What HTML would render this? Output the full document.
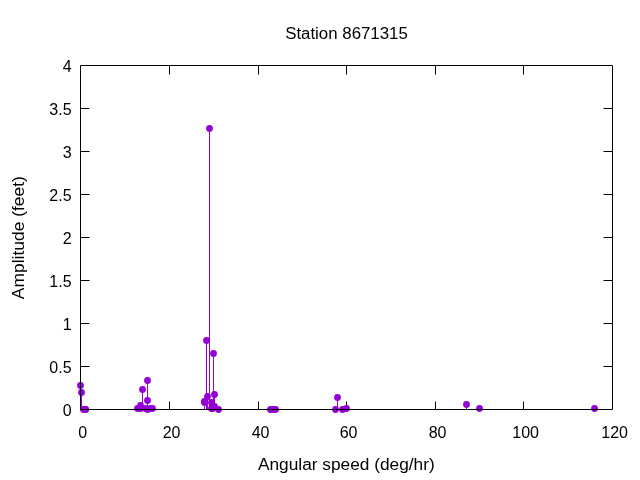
<!DOCTYPE html>
<html><head><meta charset="utf-8"><style>
html,body{margin:0;padding:0;background:#fff;width:640px;height:480px;overflow:hidden}
svg{display:block;will-change:transform}
text{font-family:"Liberation Sans",sans-serif}
</style></head><body>
<svg width="640" height="480" viewBox="0 0 640 480">
<rect width="640" height="480" fill="#fff"/>
<path d="M80.5,108.5H89.5M612.5,108.5H603.5M80.5,151.5H89.5M612.5,151.5H603.5M80.5,194.5H89.5M612.5,194.5H603.5M80.5,237.5H89.5M612.5,237.5H603.5M80.5,280.5H89.5M612.5,280.5H603.5M80.5,323.5H89.5M612.5,323.5H603.5M80.5,366.5H89.5M612.5,366.5H603.5M169.5,409.5V401.5M169.5,65.5V74.5M258.5,409.5V401.5M258.5,65.5V74.5M346.5,409.5V401.5M346.5,65.5V74.5M435.5,409.5V401.5M435.5,65.5V74.5M523.5,409.5V401.5M523.5,65.5V74.5" stroke="#000" stroke-width="1.0" fill="none"/>
<path d="M80.5,409.5V385.5M81.5,409.5V392.5M83.5,409.5V409.5M85.5,409.5V409.5M85.5,409.5V409.5M137.5,409.5V408.5M140.5,409.5V405.5M140.5,409.5V408.5M142.5,409.5V389.5M145.5,409.5V408.5M147.5,409.5V400.5M147.5,409.5V409.5M147.5,409.5V380.5M150.5,409.5V408.5M152.5,409.5V408.5M204.5,409.5V402.5M204.5,409.5V401.5M206.5,409.5V340.5M207.5,409.5V396.5M209.5,409.5V128.5M211.5,409.5V408.5M211.5,409.5V402.5M214.5,409.5V406.5M213.5,409.5V353.5M212.5,409.5V408.5M214.5,409.5V394.5M218.5,409.5V409.5M270.5,409.5V409.5M273.5,409.5V409.5M275.5,409.5V409.5M335.5,409.5V409.5M337.5,409.5V397.5M342.5,409.5V409.5M346.5,409.5V408.5M466.5,409.5V404.5M479.5,409.5V408.5M594.5,409.5V408.5" stroke="#9400d3" stroke-width="1.0" fill="none"/>
<g fill="#9400d3"><circle cx="80.5" cy="385.5" r="3.4"/><circle cx="81.5" cy="392.5" r="3.4"/><circle cx="83.5" cy="409.5" r="3.4"/><circle cx="85.5" cy="409.5" r="3.4"/><circle cx="85.5" cy="409.5" r="3.4"/><circle cx="137.5" cy="408.5" r="3.4"/><circle cx="140.5" cy="405.5" r="3.4"/><circle cx="140.5" cy="408.5" r="3.4"/><circle cx="142.5" cy="389.5" r="3.4"/><circle cx="145.5" cy="408.5" r="3.4"/><circle cx="147.5" cy="400.5" r="3.4"/><circle cx="147.5" cy="409.5" r="3.4"/><circle cx="147.5" cy="380.5" r="3.4"/><circle cx="150.5" cy="408.5" r="3.4"/><circle cx="152.5" cy="408.5" r="3.4"/><circle cx="204.5" cy="402.5" r="3.4"/><circle cx="204.5" cy="401.5" r="3.4"/><circle cx="206.5" cy="340.5" r="3.4"/><circle cx="207.5" cy="396.5" r="3.4"/><circle cx="209.5" cy="128.5" r="3.4"/><circle cx="211.5" cy="408.5" r="3.4"/><circle cx="211.5" cy="402.5" r="3.4"/><circle cx="214.5" cy="406.5" r="3.4"/><circle cx="213.5" cy="353.5" r="3.4"/><circle cx="212.5" cy="408.5" r="3.4"/><circle cx="214.5" cy="394.5" r="3.4"/><circle cx="218.5" cy="409.5" r="3.4"/><circle cx="270.5" cy="409.5" r="3.4"/><circle cx="273.5" cy="409.5" r="3.4"/><circle cx="275.5" cy="409.5" r="3.4"/><circle cx="335.5" cy="409.5" r="3.4"/><circle cx="337.5" cy="397.5" r="3.4"/><circle cx="342.5" cy="409.5" r="3.4"/><circle cx="346.5" cy="408.5" r="3.4"/><circle cx="466.5" cy="404.5" r="3.4"/><circle cx="479.5" cy="408.5" r="3.4"/><circle cx="594.5" cy="408.5" r="3.4"/></g>
<path d="M80.5,65.5H612.5V409.5H80.5Z" stroke="#000" stroke-width="1.0" fill="none"/>
<g font-family="Liberation Sans, sans-serif" font-size="16" fill="#000"><text x="346.5" y="38.5" text-anchor="middle" textLength="122.7" lengthAdjust="spacingAndGlyphs">Station 8671315</text><text x="71.6" y="415.90" text-anchor="end">0</text><text x="71.6" y="372.90" text-anchor="end">0.5</text><text x="71.6" y="329.90" text-anchor="end">1</text><text x="71.6" y="286.90" text-anchor="end">1.5</text><text x="71.6" y="243.90" text-anchor="end">2</text><text x="71.6" y="200.90" text-anchor="end">2.5</text><text x="71.6" y="157.90" text-anchor="end">3</text><text x="71.6" y="114.90" text-anchor="end">3.5</text><text x="71.6" y="71.90" text-anchor="end">4</text><text x="82.60" y="437.5" text-anchor="middle">0</text><text x="171.60" y="437.5" text-anchor="middle">20</text><text x="260.60" y="437.5" text-anchor="middle">40</text><text x="348.60" y="437.5" text-anchor="middle">60</text><text x="437.60" y="437.5" text-anchor="middle">80</text><text x="525.60" y="437.5" text-anchor="middle">100</text><text x="614.60" y="437.5" text-anchor="middle">120</text><text x="346.35" y="469.8" text-anchor="middle" textLength="176.8" lengthAdjust="spacingAndGlyphs">Angular speed (deg/hr)</text><text transform="translate(24.2,237.65) rotate(-90)" x="0" y="0" text-anchor="middle" textLength="123" lengthAdjust="spacingAndGlyphs">Amplitude (feet)</text></g>
</svg>
</body></html>
